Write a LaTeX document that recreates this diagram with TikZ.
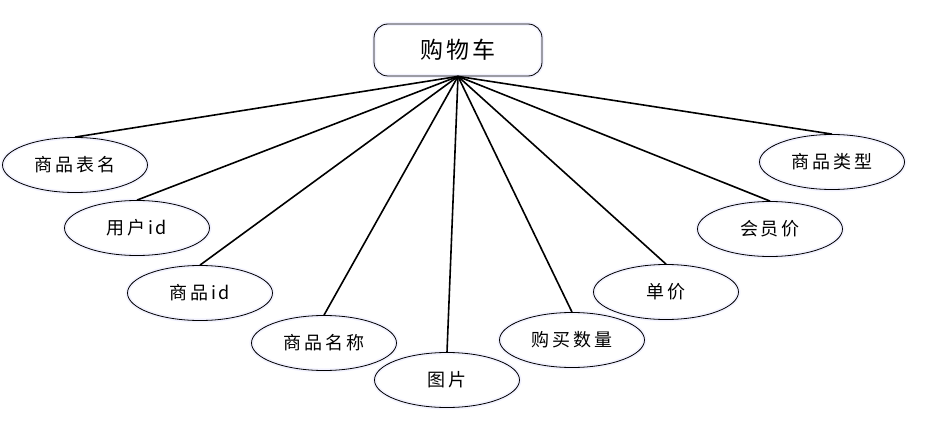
\documentclass[tikz,border=0pt]{standalone}
\usepackage{fontspec}
\setmainfont{Noto Sans CJK SC}
\newfontfamily\cjkspaced[LetterSpace=15]{Noto Sans CJK SC}
\usepackage{tikz}
\usetikzlibrary{shapes.geometric}

\begin{document}
\begin{tikzpicture}[x=1pt, y=-1pt,
    attr/.style={ellipse, draw, line width=0.8pt, minimum width=145pt, minimum height=55pt, inner sep=0pt,
        preaction={draw=blue!5, line width=4pt}, font=\cjkspaced\fontsize{18}{20}\selectfont},
    entity/.style={rectangle, rounded corners=14pt, draw, line width=0.8pt, minimum width=168pt, minimum height=52pt,
        preaction={draw=blue!5, line width=4pt}, font=\cjkspaced\fontsize{23}{26}\selectfont},
    link/.style={line width=1.6pt}]
    \path[use as bounding box] (0,0) rectangle (939,425);

    % Entity
    \node[entity] (cart) at (458,50) {购物车};

    % Attributes
    \node[attr] (tablename) at (75,165) {商品表名};
    \node[attr] (userid) at (137,228) {用户id};
    \node[attr] (goodsid) at (200,293) {商品id};
    \node[attr] (goodsname) at (324,343) {商品名称};
    \node[attr] (picture) at (447,380) {图片};
    \node[attr] (amount) at (572,340) {购买数量};
    \node[attr] (price) at (666,292) {单价};
    \node[attr] (vipprice) at (770,229) {会员价};
    \node[attr] (goodstype) at (832,162) {商品类型};

    % Links
    \foreach \a in {tablename, userid, goodsid, goodsname, picture, amount, price, vipprice, goodstype}
        \draw[link] (cart.south) -- (\a.north);
\end{tikzpicture}
\end{document}
